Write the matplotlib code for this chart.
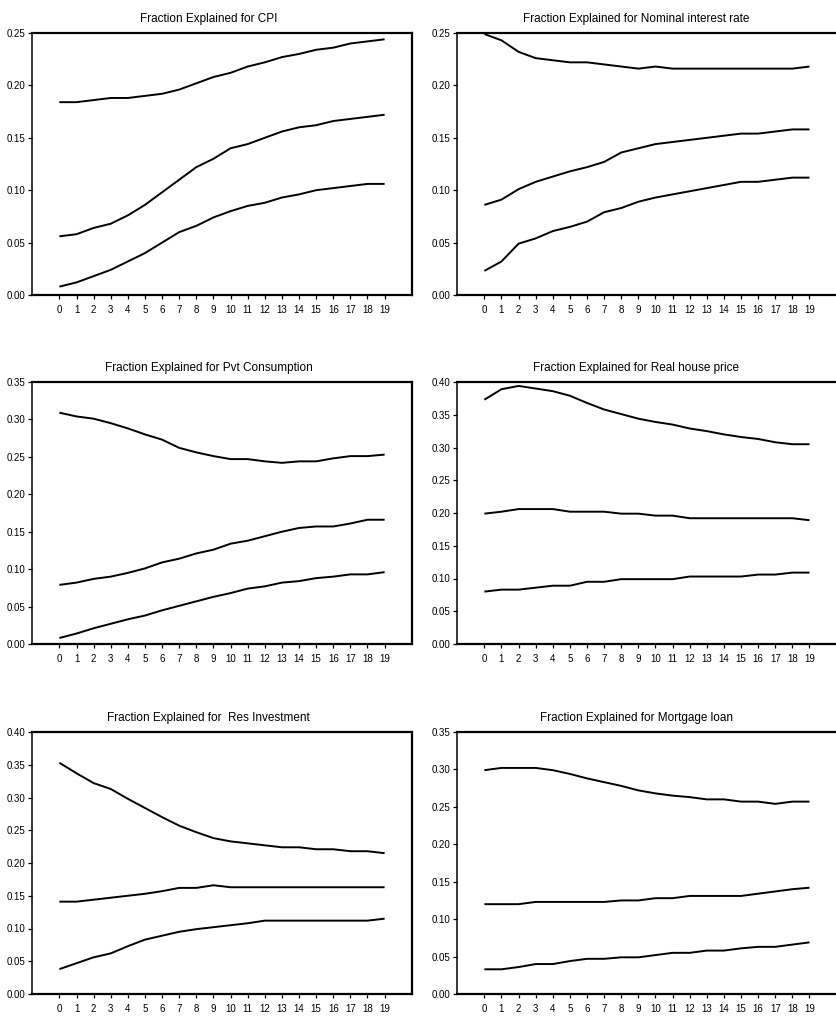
import matplotlib
matplotlib.use("Agg")
import matplotlib.pyplot as plt
import numpy as np

plt.rcParams['font.family'] = ['Liberation Sans Narrow', 'Liberation Sans', 'DejaVu Sans']

horizons = list(range(20))
horizon_labels = [str(h) for h in horizons]

titles = [
    "Fraction Explained for CPI",
    "Fraction Explained for Nominal interest rate",
    "Fraction Explained for Pvt Consumption",
    "Fraction Explained for Real house price",
    "Fraction Explained for  Res Investment",
    "Fraction Explained for Mortgage loan",
]

cpi_upper = [0.184, 0.184, 0.186, 0.188, 0.188, 0.190, 0.192, 0.196, 0.202, 0.208,
             0.212, 0.218, 0.222, 0.227, 0.230, 0.234, 0.236, 0.240, 0.242, 0.244]
cpi_mid = [0.056, 0.058, 0.064, 0.068, 0.076, 0.086, 0.098, 0.110, 0.122, 0.130,
           0.140, 0.144, 0.150, 0.156, 0.160, 0.162, 0.166, 0.168, 0.170, 0.172]
cpi_lower = [0.008, 0.012, 0.018, 0.024, 0.032, 0.040, 0.050, 0.060, 0.066, 0.074,
             0.080, 0.085, 0.088, 0.093, 0.096, 0.100, 0.102, 0.104, 0.106, 0.106]

rate_upper = [0.249, 0.243, 0.232, 0.226, 0.224, 0.222, 0.222, 0.220, 0.218, 0.216,
              0.218, 0.216, 0.216, 0.216, 0.216, 0.216, 0.216, 0.216, 0.216, 0.218]
rate_mid = [0.086, 0.091, 0.101, 0.108, 0.113, 0.118, 0.122, 0.127, 0.136, 0.140,
            0.144, 0.146, 0.148, 0.150, 0.152, 0.154, 0.154, 0.156, 0.158, 0.158]
rate_lower = [0.023, 0.032, 0.049, 0.054, 0.061, 0.065, 0.070, 0.079, 0.083, 0.089,
              0.093, 0.096, 0.099, 0.102, 0.105, 0.108, 0.108, 0.110, 0.112, 0.112]

cons_upper = [0.309, 0.304, 0.301, 0.295, 0.288, 0.280, 0.273, 0.262, 0.256, 0.251,
              0.247, 0.247, 0.244, 0.242, 0.244, 0.244, 0.248, 0.251, 0.251, 0.253]
cons_mid = [0.079, 0.082, 0.087, 0.090, 0.095, 0.101, 0.109, 0.114, 0.121, 0.126,
            0.134, 0.138, 0.144, 0.150, 0.155, 0.157, 0.157, 0.161, 0.166, 0.166]
cons_lower = [0.008, 0.014, 0.021, 0.027, 0.033, 0.038, 0.045, 0.051, 0.057, 0.063,
              0.068, 0.074, 0.077, 0.082, 0.084, 0.088, 0.090, 0.093, 0.093, 0.096]

house_upper = [0.373, 0.389, 0.394, 0.390, 0.386, 0.379, 0.368, 0.358, 0.351, 0.344,
               0.339, 0.335, 0.329, 0.325, 0.320, 0.316, 0.313, 0.308, 0.305, 0.305]
house_mid = [0.199, 0.202, 0.206, 0.206, 0.206, 0.202, 0.202, 0.202, 0.199, 0.199,
             0.196, 0.196, 0.192, 0.192, 0.192, 0.192, 0.192, 0.192, 0.192, 0.189]
house_lower = [0.080, 0.083, 0.083, 0.086, 0.089, 0.089, 0.095, 0.095, 0.099, 0.099,
               0.099, 0.099, 0.103, 0.103, 0.103, 0.103, 0.106, 0.106, 0.109, 0.109]

inv_upper = [0.353, 0.337, 0.322, 0.313, 0.298, 0.284, 0.270, 0.257, 0.247, 0.238,
             0.233, 0.230, 0.227, 0.224, 0.224, 0.221, 0.221, 0.218, 0.218, 0.215]
inv_mid = [0.141, 0.141, 0.144, 0.147, 0.150, 0.153, 0.157, 0.162, 0.162, 0.166,
           0.163, 0.163, 0.163, 0.163, 0.163, 0.163, 0.163, 0.163, 0.163, 0.163]
inv_lower = [0.038, 0.047, 0.056, 0.062, 0.073, 0.083, 0.089, 0.095, 0.099, 0.102,
             0.105, 0.108, 0.112, 0.112, 0.112, 0.112, 0.112, 0.112, 0.112, 0.115]

loan_upper = [0.299, 0.302, 0.302, 0.302, 0.299, 0.294, 0.288, 0.283, 0.278, 0.272,
              0.268, 0.265, 0.263, 0.260, 0.260, 0.257, 0.257, 0.254, 0.257, 0.257]
loan_mid = [0.120, 0.120, 0.120, 0.123, 0.123, 0.123, 0.123, 0.123, 0.125, 0.125,
            0.128, 0.128, 0.131, 0.131, 0.131, 0.131, 0.134, 0.137, 0.140, 0.142]
loan_lower = [0.033, 0.033, 0.036, 0.040, 0.040, 0.044, 0.047, 0.047, 0.049, 0.049,
              0.052, 0.055, 0.055, 0.058, 0.058, 0.061, 0.063, 0.063, 0.066, 0.069]

series = [
    (cpi_upper, cpi_mid, cpi_lower),
    (rate_upper, rate_mid, rate_lower),
    (cons_upper, cons_mid, cons_lower),
    (house_upper, house_mid, house_lower),
    (inv_upper, inv_mid, inv_lower),
    (loan_upper, loan_mid, loan_lower),
]

y_tops = [0.25, 0.25, 0.35, 0.40, 0.40, 0.35]

fig = plt.figure(figsize=(8.36, 10.18), dpi=100)
W, H = 836.0, 1018.0
col_left = [32, 457]
row_top = [33, 382, 732]
ax_w, ax_h = 380, 262

for i, (title, lines, ytop) in enumerate(zip(titles, series, y_tops)):
    r, c = divmod(i, 2)
    left = col_left[c] / W
    bottom = 1 - (row_top[r] + ax_h) / H
    # the right-hand column runs past the canvas edge, so its right spine is cut off
    xmax = 20.6 if c == 0 else 20.9
    width = ax_w if c == 0 else ax_w + 5
    ax = fig.add_axes([left, bottom, width / W, ax_h / H])
    for vals in lines:
        ax.plot(horizons, vals, color='black', lw=1.4, solid_capstyle='butt')
    ax.set_xlim(-1.6, xmax)
    ax.set_ylim(0, ytop)
    ax.set_xticks(horizons)
    ax.set_xticklabels(horizon_labels)
    yt = np.round(np.arange(0, ytop + 1e-9, 0.05), 2)
    ax.set_yticks(yt)
    ax.set_yticklabels([f"{v:.2f}" for v in yt])
    ax.tick_params(axis='both', direction='out', length=3, width=0.9,
                   labelsize=7, colors='black', pad=2)
    ax.tick_params(axis='x', pad=4)
    for side, sp in ax.spines.items():
        sp.set_linewidth(1.6 if side in ('top', 'bottom', 'right') else 1.1)
        sp.set_color('black')
    ax.set_title(title, fontsize=8.5, x=0.465, pad=8)

fig.savefig("out.png", dpi=100)
